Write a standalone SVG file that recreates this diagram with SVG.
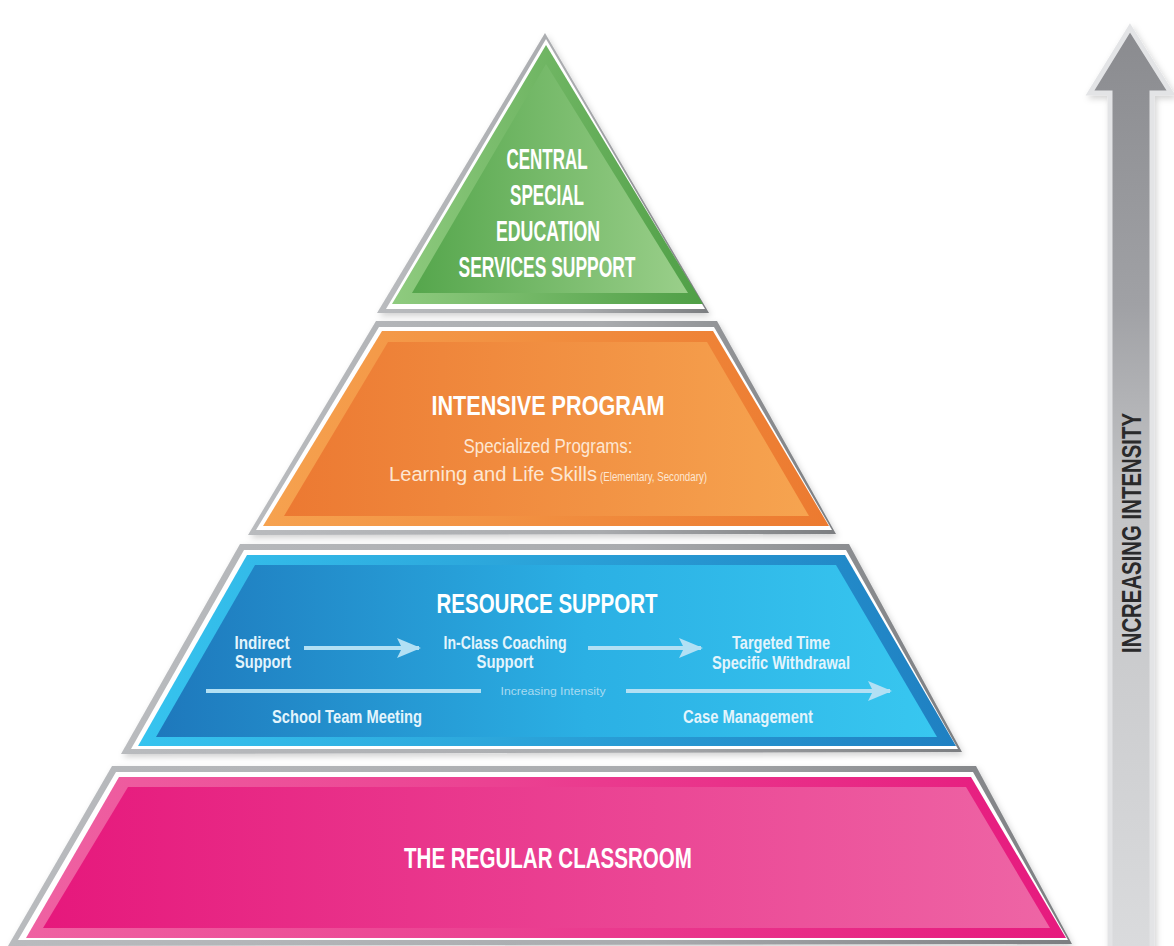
<svg xmlns="http://www.w3.org/2000/svg" width="1174" height="946" viewBox="0 0 1174 946">
<style>
.frame{fill:url(#gFrame)}
.wline{fill:#ffffff}
.hd{font-family:"Liberation Sans",Arial,sans-serif;font-weight:bold;fill:#ffffff;text-anchor:middle}
.sub{font-family:"Liberation Sans",Arial,sans-serif;fill:#fde6d2;text-anchor:middle}
.bl{font-family:"Liberation Sans",Arial,sans-serif;font-weight:bold;fill:#e3f4fc;text-anchor:middle}
.conn{stroke:#b2e0f4;stroke-width:4;fill:none}
</style>
<defs>
<filter id="sh" x="-10%" y="-10%" width="120%" height="130%">
<feDropShadow dx="2" dy="3" stdDeviation="3" flood-color="#000" flood-opacity="0.18"/>
</filter>
<linearGradient id="gFrame" x1="0" y1="0" x2="1" y2="0">
<stop offset="0" stop-color="#b9bbbe"/><stop offset="0.6" stop-color="#a9abae"/><stop offset="1" stop-color="#7c7e81"/>
</linearGradient>
<linearGradient id="gGb" x1="0" y1="0" x2="1" y2="0"><stop offset="0" stop-color="#8fcb7f"/><stop offset="1" stop-color="#4f9f46"/></linearGradient>
<linearGradient id="gGi" x1="0" y1="0" x2="1" y2="0"><stop offset="0" stop-color="#55a64c"/><stop offset="1" stop-color="#9acf8a"/></linearGradient>
<linearGradient id="gOb" x1="0" y1="0" x2="1" y2="0"><stop offset="0" stop-color="#f6a24f"/><stop offset="1" stop-color="#ec7a30"/></linearGradient>
<linearGradient id="gOi" x1="0" y1="0" x2="1" y2="0"><stop offset="0" stop-color="#ec7932"/><stop offset="1" stop-color="#f6a450"/></linearGradient>
<linearGradient id="gBb" x1="0" y1="0" x2="1" y2="0"><stop offset="0" stop-color="#36c4ef"/><stop offset="1" stop-color="#1f80c2"/></linearGradient>
<linearGradient id="gBi" x1="0" y1="0" x2="1" y2="0"><stop offset="0" stop-color="#1e78bc"/><stop offset="0.55" stop-color="#2bb0e4"/><stop offset="1" stop-color="#38c7f0"/></linearGradient>
<linearGradient id="gPb" x1="0" y1="0" x2="1" y2="0"><stop offset="0" stop-color="#ef62a2"/><stop offset="1" stop-color="#e61a7e"/></linearGradient>
<linearGradient id="gPi" x1="0" y1="0" x2="1" y2="0"><stop offset="0" stop-color="#e6187c"/><stop offset="1" stop-color="#ee65a5"/></linearGradient>
<linearGradient id="gArrow" x1="0" y1="0" x2="0" y2="1">
<stop offset="0" stop-color="#8a8b8f"/><stop offset="0.3" stop-color="#a0a1a5"/><stop offset="0.5" stop-color="#c2c3c5"/><stop offset="1" stop-color="#dadbdd"/>
</linearGradient>
<marker id="ah" viewBox="0 0 24 20" refX="22" refY="10" markerWidth="24" markerHeight="20" markerUnits="userSpaceOnUse" orient="auto">
<path d="M0,0 L24,10 L0,20 L5,10 Z" fill="#b2e0f4"/>
</marker>
</defs>
<rect width="1174" height="946" fill="#ffffff"/>

<g id="intensity-arrow">
<polygon points="1130,28 1171,93 1152,93 1152,950 1110,950 1110,93 1090,93" fill="url(#gArrow)" stroke="#e3e4e6" stroke-width="5" stroke-linejoin="miter" filter="url(#sh)"/>
<text x="0" y="0" transform="translate(1141,533) rotate(-90)" font-family="'Liberation Sans',Arial,sans-serif" font-weight="bold" font-size="27" fill="#2a2a2b" text-anchor="middle" textLength="240" lengthAdjust="spacingAndGlyphs">INCREASING INTENSITY</text>
</g>

<g id="tier-central">
<polygon class="frame" points="545,33 709,313 377,313" filter="url(#sh)"/>
<polygon class="wline" points="546,39 705,309 386,309"/>
<polygon points="546,45 703,304 392,304" fill="url(#gGb)"/>
<polygon points="546,64 688,293 412,293" fill="url(#gGi)"/>
<text class="hd" x="547" y="169" font-size="29" textLength="81" lengthAdjust="spacingAndGlyphs">CENTRAL</text>
<text class="hd" x="547" y="205" font-size="29" textLength="74" lengthAdjust="spacingAndGlyphs">SPECIAL</text>
<text class="hd" x="548" y="241" font-size="29" textLength="104" lengthAdjust="spacingAndGlyphs">EDUCATION</text>
<text class="hd" x="547" y="277" font-size="29" textLength="177" lengthAdjust="spacingAndGlyphs">SERVICES SUPPORT</text>
</g>

<g id="tier-intensive">
<polygon class="frame" points="376,321 717,321 836,534 248,535" filter="url(#sh)"/>
<polygon class="wline" points="379,327 714,327 832,530 256,530"/>
<polygon points="382,331 713,331 829,526 263,526" fill="url(#gOb)"/>
<polygon points="388,342 707,342 809,516 284,516" fill="url(#gOi)"/>
<text class="hd" x="548" y="415" font-size="28" textLength="233" lengthAdjust="spacingAndGlyphs">INTENSIVE PROGRAM</text>
<text class="sub" x="548" y="453" font-size="20" textLength="169" lengthAdjust="spacingAndGlyphs">Specialized Programs:</text>
<text class="sub" x="389" y="481" font-size="20" text-anchor="start" style="text-anchor:start" textLength="208" lengthAdjust="spacingAndGlyphs">Learning and Life Skills</text>
<text class="sub" x="600" y="481" font-size="12" style="text-anchor:start" textLength="107" lengthAdjust="spacingAndGlyphs">(Elementary, Secondary)</text>
</g>

<g id="tier-resource">
<polygon class="frame" points="240,544 849,544 962,752 121,754" filter="url(#sh)"/>
<polygon class="wline" points="244,550 846,550 958,749 131,749"/>
<polygon points="247,555 845,555 956,746 138,746" fill="url(#gBb)"/>
<polygon points="255,565 836,565 937,737 156,737" fill="url(#gBi)"/>
<text class="hd" x="547" y="613" font-size="28" textLength="221" lengthAdjust="spacingAndGlyphs">RESOURCE SUPPORT</text>
<text class="bl" x="262" y="649" font-size="19" textLength="55" lengthAdjust="spacingAndGlyphs">Indirect</text>
<text class="bl" x="263" y="668" font-size="19" textLength="56" lengthAdjust="spacingAndGlyphs">Support</text>
<text class="bl" x="505" y="649" font-size="19" textLength="123" lengthAdjust="spacingAndGlyphs">In-Class Coaching</text>
<text class="bl" x="505" y="668" font-size="19" textLength="57" lengthAdjust="spacingAndGlyphs">Support</text>
<text class="bl" x="781" y="649" font-size="19" textLength="98" lengthAdjust="spacingAndGlyphs">Targeted Time</text>
<text class="bl" x="781" y="669" font-size="19" textLength="138" lengthAdjust="spacingAndGlyphs">Specific Withdrawal</text>
<text class="bl" x="553" y="695" font-size="11" fill="#9fd6ef" style="fill:#a8dbf1;font-weight:normal" textLength="105" lengthAdjust="spacingAndGlyphs">Increasing Intensity</text>
<text class="bl" x="347" y="723" font-size="19" textLength="150" lengthAdjust="spacingAndGlyphs">School Team Meeting</text>
<text class="bl" x="748" y="723" font-size="19" textLength="130" lengthAdjust="spacingAndGlyphs">Case Management</text>
</g>

<g id="tier-classroom">
<polygon class="frame" points="112,766 976,766 1072,944 8,946" filter="url(#sh)"/>
<polygon class="wline" points="116,772 973,772 1068,940 18,940"/>
<polygon points="119,777 971,777 1066,938 26,938" fill="url(#gPb)"/>
<polygon points="128,787 966,787 1050,928 43,928" fill="url(#gPi)"/>
<text class="hd" x="548" y="868" font-size="29" textLength="288" lengthAdjust="spacingAndGlyphs">THE REGULAR CLASSROOM</text>
</g>

<g id="connectors">
<line class="conn" x1="304" y1="648" x2="419" y2="648" marker-end="url(#ah)"/>
<line class="conn" x1="588" y1="648" x2="701" y2="648" marker-end="url(#ah)"/>
<line class="conn" x1="206" y1="691" x2="481" y2="691"/>
<line class="conn" x1="626" y1="691" x2="890" y2="691" marker-end="url(#ah)"/>
</g>
</svg>
